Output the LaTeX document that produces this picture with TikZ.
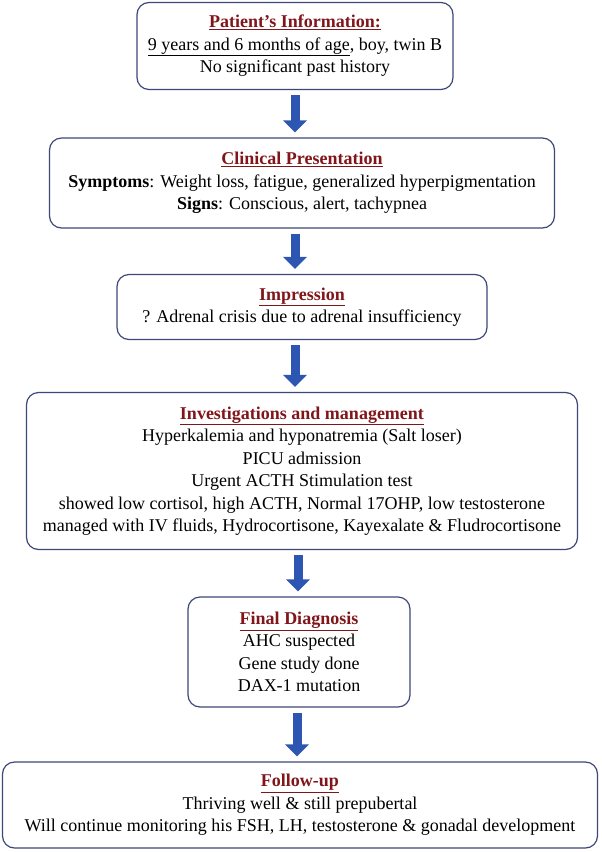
\documentclass[tikz,border=0pt]{standalone}
\usepackage{fontspec}
\setmainfont{Liberation Serif}
\usepackage{xcolor}
\usetikzlibrary{arrows, arrows.meta}
\usetikzlibrary{calc}
\definecolor{titlered}{RGB}{128,22,26}
\definecolor{boxline}{RGB}{62,72,120}
\definecolor{arrowblue}{RGB}{44,86,178}
\tikzstyle{arrow}=[-{Triangle[width=23pt,length=12pt]}, line width=9pt, arrowblue]
\tikzset{
    stage/.style={draw=boxline, line width=1.2pt, rounded corners=12pt,
        align=center, inner sep=0pt, font=\fontsize{18}{22.5}\selectfont}
}
\newcommand{\hd}[1]{\textcolor{titlered}{\underline{\textbf{#1}}}}

\begin{document}
\begin{tikzpicture}[x=1pt, y=1pt]
 \useasboundingbox (0,0) rectangle (602,-852);

      \node [stage, minimum width=316pt, minimum height=87pt] (info) at (295,-46)
        {\hd{Patient’s Information:}\\
         \underline{9 years and 6 months of age}, boy, twin B\\
         No significant past history};
      \node [stage, minimum width=505pt, minimum height=90pt] (clin) at (302,-183)
        {\hd{Clinical Presentation}\\
         \textbf{Symptoms}: Weight loss, fatigue, generalized hyperpigmentation\\
         \textbf{Signs}: Conscious, alert, tachypnea};
      \node [stage, minimum width=370pt, minimum height=65pt] (imp) at (302,-307)
        {\hd{Impression}\\
         ? Adrenal crisis due to adrenal insufficiency};
      \node [stage, minimum width=551pt, minimum height=157pt] (inv) at (302,-471)
        {\hd{Investigations and management}\\
         Hyperkalemia and hyponatremia (Salt loser)\\
         PICU admission\\
         Urgent ACTH Stimulation test\\
         showed low cortisol, high ACTH, Normal 17OHP, low testosterone\\
         managed with IV fluids, Hydrocortisone, Kayexalate \& Fludrocortisone};
      \node [stage, minimum width=222pt, minimum height=110pt] (diag) at (299,-652)
        {\hd{Final Diagnosis}\\
         AHC suspected\\
         Gene study done\\
         DAX-1 mutation};
      \node [stage, minimum width=595pt, minimum height=86pt] (fup) at (300,-805)
        {\hd{Follow-up}\\
         Thriving well \& still prepubertal\\
         Will continue monitoring his FSH, LH, testosterone \& gonadal development};

    % arrows between stages
    \draw [arrow, shorten <=5pt, shorten >=5pt] (info.south) -- (info.south |- clin.north);
    \draw [arrow, shorten <=5pt, shorten >=5pt] ([xshift=-7pt]clin.south) -- ([xshift=-7pt]clin.south |- imp.north);
    \draw [arrow, shorten <=5pt, shorten >=5pt] ([xshift=-7pt]imp.south) -- ([xshift=-7pt]imp.south |- inv.north);
    \draw [arrow, shorten <=5pt, shorten >=5pt] ([xshift=-4pt]inv.south) -- ([xshift=-4pt]inv.south |- diag.north);
    \draw [arrow, shorten <=5pt, shorten >=5pt] ([xshift=-2pt]diag.south) -- ([xshift=-2pt]diag.south |- fup.north);

\end{tikzpicture}
\end{document}
